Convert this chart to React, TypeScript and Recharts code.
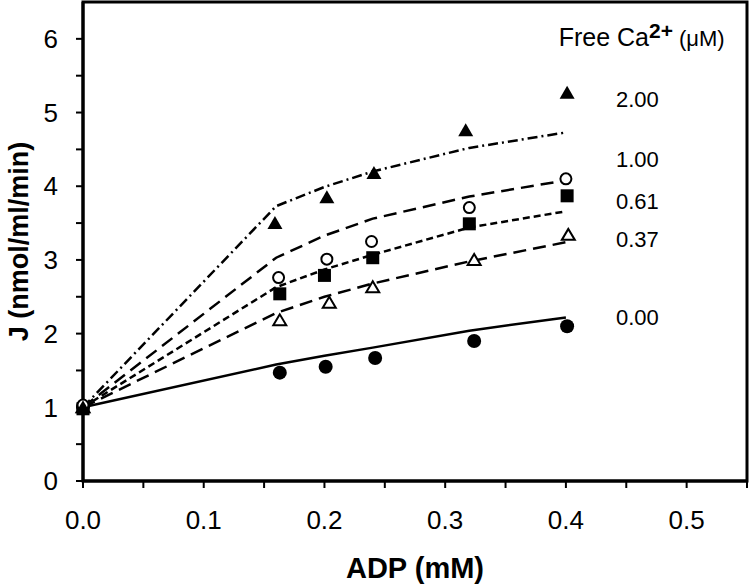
import React from "react";
import {
  ComposedChart,
  Line,
  Scatter,
  XAxis,
  YAxis,
  ReferenceArea,
  ReferenceDot,
} from "recharts";

// fitted curves, evaluated at these ADP values
const fitX = [0, 0.16, 0.2, 0.24, 0.32, 0.4];
const fit000 = [1, 1.58, 1.7, 1.81, 2.04, 2.22];
const fit037 = [1, 2.28, 2.5, 2.68, 2.98, 3.24];
const fit061 = [1, 2.63, 2.87, 3.07, 3.44, 3.66];
const fit100 = [1, 3.03, 3.33, 3.56, 3.86, 4.08];
const fit200 = [1, 3.73, 3.99, 4.2, 4.52, 4.73];

// measured points
const x000 = [0, 0.163, 0.201, 0.242, 0.324, 0.401];
const y000 = [1.0, 1.47, 1.55, 1.67, 1.9, 2.1];
const x037 = [0, 0.163, 0.204, 0.24, 0.324, 0.402];
const y037 = [1.0, 2.18, 2.42, 2.63, 3.0, 3.34];
const x061 = [0, 0.163, 0.2, 0.24, 0.32, 0.401];
const y061 = [0.98, 2.54, 2.79, 3.03, 3.49, 3.87];
const x100 = [0, 0.162, 0.202, 0.239, 0.32, 0.4];
const y100 = [1.03, 2.76, 3.01, 3.25, 3.71, 4.1];
const x200 = [0, 0.159, 0.202, 0.241, 0.317, 0.401];
const y200 = [1.0, 3.5, 3.85, 4.18, 4.76, 5.27];

const caLabels = ["2.00", "1.00", "0.61", "0.37", "0.00"];
const caLabelY = [5.18, 4.37, 3.8, 3.28, 2.22];
const caLabelX = 0.4415;

const xTicks = [0, 0.05, 0.1, 0.15, 0.2, 0.25, 0.3, 0.35, 0.4, 0.45, 0.5, 0.55];
const yTicks = [0, 0.5, 1, 1.5, 2, 2.5, 3, 3.5, 4, 4.5, 5, 5.5, 6];

const FONT = "Arial, 'Liberation Sans', sans-serif";

const fitData = fitX.map((x, i) => ({
  x,
  f000: fit000[i],
  f037: fit037[i],
  f061: fit061[i],
  f100: fit100[i],
  f200: fit200[i],
}));

const pts = (xs: number[], ys: number[]) => xs.map((x, i) => ({ x, y: ys[i] }));

const FilledCircle = (p: any) => <circle cx={p.cx} cy={p.cy} r={7} fill="#000" />;
const OpenCircle = (p: any) => (
  <circle cx={p.cx} cy={p.cy} r={5.5} fill="#fff" stroke="#000" strokeWidth={2} />
);
const FilledSquare = (p: any) => (
  <rect x={p.cx - 6.5} y={p.cy - 6.5} width={13} height={13} fill="#000" />
);
const FilledTriangle = (p: any) => (
  <polygon
    points={`${p.cx},${p.cy - 7} ${p.cx - 7.5},${p.cy + 6} ${p.cx + 7.5},${p.cy + 6}`}
    fill="#000"
  />
);
const OpenTriangle = (p: any) => (
  <polygon
    points={`${p.cx},${p.cy - 6} ${p.cx - 6.5},${p.cy + 5} ${p.cx + 6.5},${p.cy + 5}`}
    fill="#fff"
    stroke="#000"
    strokeWidth={2}
  />
);

const xFmt = (v: number) => {
  const r = Math.round(v * 100);
  return r % 10 === 0 ? v.toFixed(1) : "";
};
const yFmt = (v: number) => (Number.isInteger(v) ? String(v) : "");

const HeaderLabel = (props: any) => {
  const { x, y } = props.viewBox;
  return (
    <text x={x} y={y} fontFamily={FONT} fill="#000">
      <tspan fontSize={25}>Free Ca</tspan>
      <tspan fontSize={21} fontWeight="bold" dy={-8}>2+</tspan>
      <tspan fontSize={22} dy={8}> (μM)</tspan>
    </text>
  );
};

const CaLabel = (text: string) => (props: any) => {
  const { x, y } = props.viewBox;
  return (
    <text x={x} y={y} dy={8} fontFamily={FONT} fontSize={22} fill="#000">
      {text}
    </text>
  );
};

export default function App() {
  return (
    <div style={{ position: "absolute", left: 0, top: 0, background: "#fff" }}>
      <ComposedChart
        width={751}
        height={588}
        data={fitData}
        margin={{ top: 2, right: 4, bottom: 0, left: 0 }}
      >
        <XAxis
          dataKey="x"
          type="number"
          domain={[0, 0.55]}
          ticks={xTicks}
          tickFormatter={xFmt}
          interval={0}
          height={107}
          axisLine={{ stroke: "#000", strokeWidth: 3 }}
          tickLine={{ stroke: "#000", strokeWidth: 2 }}
          tickSize={7}
          tickMargin={23}
          tick={{ fill: "#000", fontSize: 26, fontFamily: FONT }}
          label={{
            value: "ADP (mM)",
            position: "insideBottom",
            offset: 10,
            style: { fill: "#000", fontSize: 29, fontWeight: "bold", fontFamily: FONT },
          }}
        />
        <YAxis
          type="number"
          domain={[0, 6.5]}
          ticks={yTicks}
          tickFormatter={yFmt}
          interval={0}
          width={83}
          axisLine={{ stroke: "#000", strokeWidth: 3 }}
          tickLine={{ stroke: "#000", strokeWidth: 2 }}
          tickSize={7}
          tickMargin={18}
          tick={{ fill: "#000", fontSize: 26, fontFamily: FONT }}
          label={{
            value: "J (nmol/ml/min)",
            angle: -90,
            position: "insideLeft",
            offset: 18,
            style: {
              textAnchor: "middle",
              fill: "#000",
              fontSize: 27,
              fontWeight: "bold",
              fontFamily: FONT,
            },
          }}
        />
        <ReferenceArea
          x1={0}
          x2={0.55}
          y1={0}
          y2={6.5}
          fill="none"
          stroke="#000"
          strokeWidth={3}
        />

        <Line dataKey="f000" stroke="#000" strokeWidth={2.5} dot={false} isAnimationActive={false} />
        <Line dataKey="f037" stroke="#000" strokeWidth={2.5} strokeDasharray="13 7" dot={false} isAnimationActive={false} />
        <Line dataKey="f061" stroke="#000" strokeWidth={2.5} strokeDasharray="7 4" dot={false} isAnimationActive={false} />
        <Line dataKey="f100" stroke="#000" strokeWidth={2.5} strokeDasharray="13 7" dot={false} isAnimationActive={false} />
        <Line dataKey="f200" stroke="#000" strokeWidth={2.5} strokeDasharray="10 4 2 4" dot={false} isAnimationActive={false} />

        <Scatter data={pts(x000, y000)} dataKey="y" shape={FilledCircle} isAnimationActive={false} />
        <Scatter data={pts(x037, y037)} dataKey="y" shape={OpenTriangle} isAnimationActive={false} />
        <Scatter data={pts(x061, y061)} dataKey="y" shape={FilledSquare} isAnimationActive={false} />
        <Scatter data={pts(x100, y100)} dataKey="y" shape={OpenCircle} isAnimationActive={false} />
        <Scatter data={pts(x200, y200)} dataKey="y" shape={FilledTriangle} isAnimationActive={false} />

        <ReferenceDot x={0.394} y={5.9} r={0} stroke="none" label={HeaderLabel} />
        {caLabels.map((t, i) => (
          <ReferenceDot key={t} x={caLabelX} y={caLabelY[i]} r={0} stroke="none" label={CaLabel(t)} />
        ))}
      </ComposedChart>
    </div>
  );
}
